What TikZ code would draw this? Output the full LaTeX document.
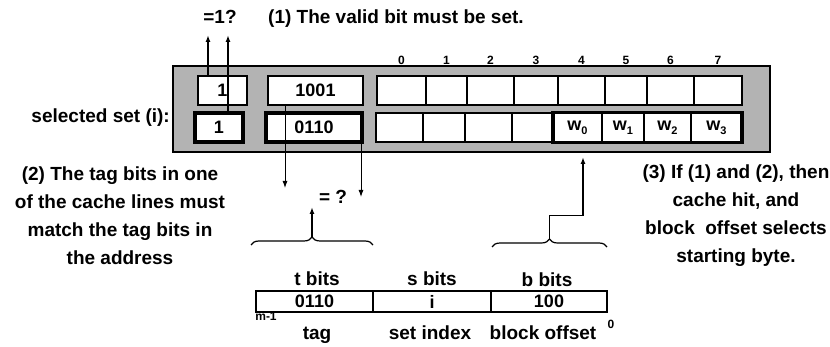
\documentclass[tikz,border=0pt]{standalone}
\usepackage{fontspec}
\setmainfont{Liberation Sans}
\usetikzlibrary{arrows.meta,decorations.pathreplacing}
\definecolor{boxgray}{RGB}{179,179,179}
\newcommand{\wsub}[1]{w\raisebox{-4pt}{\fontsize{11}{11}\selectfont\bfseries #1}}
\begin{document}
\begin{tikzpicture}[x=1pt,y=-1pt,
 txt/.style={font=\fontsize{19}{28}\selectfont\bfseries, inner sep=0pt, text height=13pt, text depth=5pt},
 txtblock/.style={font=\fontsize{19}{28}\selectfont\bfseries, inner sep=0pt, align=center},
 small/.style={font=\fontsize{12}{14}\selectfont\bfseries, inner sep=0pt, text height=9pt, text depth=0pt},
 cell/.style={draw, fill=white, line width=1.5pt, inner sep=0pt, outer sep=0pt, font=\fontsize{18}{20}\selectfont\bfseries},
 thickcell/.style={cell, line width=3.5pt},
 arr/.style={line width=1.5pt, -{Latex[length=7pt,width=5pt]}},
 thinarr/.style={line width=0.9pt, -{Latex[length=7pt,width=5pt]}},
 brc/.style={decorate, decoration={brace, amplitude=8pt}, line width=1.2pt},
]
\useasboundingbox (0,0) rectangle (830,347);
% gray set box
\node[draw, fill=boxgray, line width=2pt, minimum width=597, minimum height=86, inner sep=0pt] (set) at (471.5,109) {};
% valid and tag boxes
\node[cell, minimum width=49, minimum height=29] (v1) at (222.5,90.5) {1};
\node[cell, minimum width=95, minimum height=29] (t1) at (315.5,90.5) {1001};
\node[thickcell, minimum width=48, minimum height=29] (v2) at (219,127.5) {1};
\node[thickcell, minimum width=96, minimum height=29] (t2) at (314,127.5) {0110};
% top data row with column numbers
\foreach \l/\r [count=\i from 0] in {377/426,426/467,467/514,514/558,558/605,605/647,647/694,694/742} {
  \node[cell, minimum width={\r-\l}, minimum height=29] (d\i) at ({(\l+\r)/2},90.5) {};
  \node[small] (c\i) at ({(\l+\r)/2},60) {\i};
}
% bottom data row
\foreach \l/\r/\t [count=\i from 0] in {376/423/{},423/465/{},465/512/{},512/553/{},553/602/{\wsub{0}},602/644/{\wsub{1}},644/691/{\wsub{2}},691/742/{\wsub{3}}} {
  \node[cell, minimum width={\r-\l}, minimum height=29] (b\i) at ({(\l+\r)/2},127.5) {\t};
}
\node[draw, line width=3.5pt, minimum width=189, minimum height=30, inner sep=0pt] (wbox) at (647.5,127.5) {};
% valid bit arrows
\coordinate (q1) at (208,35);
\coordinate (q2) at (228,35);
\draw[arr] (v1.north -| q1) -- (q1);
\draw[arr] (v2.north -| q2) -- (q2);
\node[txt] (eq1) at (220,20) {=1?};
\node[txt, anchor=west] (n1) at (268,20) {(1) The valid bit must be set.};
% left labels
\node[txt, anchor=east] (sel) at (170,119) {selected set (i):};
\node[txtblock] (n2) at (120,216) {(2) The tag bits in one\\of the cache lines must\\match the tag bits in\\the address};
\node[txtblock] (n3) at (736,216) {(3) If (1) and (2), then\\cache hit, and\\block\ \ offset selects\\starting byte.};
% tag comparison
\coordinate (e1) at (285,188);
\coordinate (e2) at (361,197);
\draw[thinarr] (t1.south -| e1) -- (e1);
\draw[thinarr] (t2.south -| e2) -- (e2);
\node[txt] (eq2) at (333,200) {= ?};
% address
\node[cell, minimum width=117, minimum height=21] (a1) at (314.5,301.5) {0110};
\node[cell, minimum width=118, minimum height=21] (a2) at (432,301.5) {i};
\node[cell, minimum width=116, minimum height=21] (a3) at (549,301.5) {100};
\node[txt] (lt) at (317,282) {t bits};
\node[txt] (ls) at (432,282) {s bits};
\node[txt] (lb) at (547,283) {b bits};
\node[small] (lm) at (266,316) {m-1};
\node[small] (l0) at (611,324) {0};
\node[txt] (ntag) at (317,335) {tag};
\node[txt] (nset) at (430,335) {set index};
\node[txt] (noff) at (543,335) {block offset};
% braces
\coordinate (bl1) at (251,245);
\coordinate (br1) at (373,245);
\coordinate (tip1) at (312,237);
\draw[brc] (bl1) -- (br1);
\draw[arr] (tip1) -- (312,207);
\coordinate (bl2) at (492,247);
\coordinate (br2) at (607,247);
\coordinate (tip2) at (549.5,239);
\coordinate (bend) at (583,216);
\coordinate (wt) at (583,157);
\draw[brc] (bl2) -- (br2);
\draw[line width=1pt] (tip2) |- (bend);
\draw[arr] (bend) -- (wt);
\end{tikzpicture}
\end{document}
